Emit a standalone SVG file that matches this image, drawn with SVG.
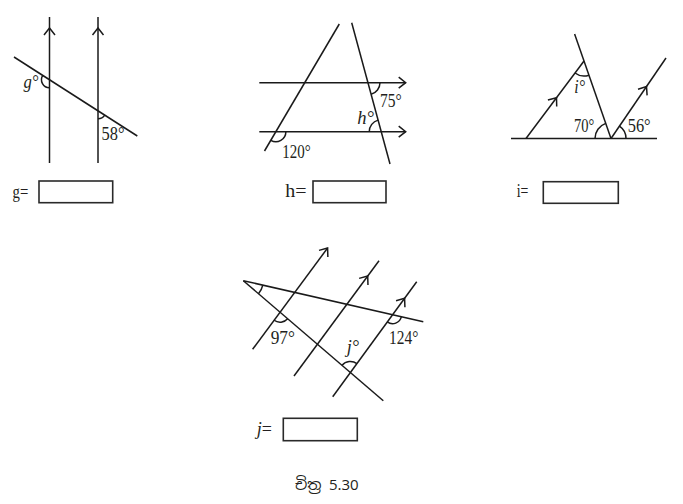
<svg xmlns="http://www.w3.org/2000/svg" xmlns:xlink="http://www.w3.org/1999/xlink" width="683" height="504" viewBox="0 0 683 504">
<style>
.ln{fill:none;stroke:#1a1a1a;stroke-width:1.5;stroke-linecap:butt}
.arc{fill:none;stroke:#1a1a1a;stroke-width:1.5}
.ch{fill:none;stroke:#1a1a1a;stroke-width:1.5;stroke-linejoin:miter}
.t{font-family:"Liberation Serif","Times New Roman",serif;font-size:18px;fill:#231f20}
.it{font-style:italic}
.box{fill:#fff;stroke:#2a2a2a;stroke-width:1.6}
.cap{font-family:"Noto Sans Sinhala","Noto Serif Sinhala","Iskoola Pota","Liberation Serif",serif;font-size:15px;fill:#231f20}
</style>
<defs>
<path id="chev" class="ch" d="M-7,-5.5 L0,0 L-7,5.5"/>
</defs>
<rect width="683" height="504" fill="#fff"/>

<g id="connectors">
<!-- panel g -->
<line class="ln" x1="49.5" y1="17" x2="49.5" y2="163"/>
<line class="ln" x1="98" y1="17" x2="98" y2="163"/>
<line class="ln" x1="14" y1="57" x2="137.3" y2="136"/>
<use xlink:href="#chev" href="#chev" transform="translate(49.5,28) rotate(-90)"/>
<use xlink:href="#chev" href="#chev" transform="translate(98,28) rotate(-90)"/>
<!-- panel h -->
<line class="ln" x1="339.3" y1="24" x2="264.5" y2="151"/>
<line class="ln" x1="351.7" y1="22.7" x2="390" y2="164"/>
<line class="ln" x1="259.3" y1="82.7" x2="405.7" y2="82.7"/>
<line class="ln" x1="259.3" y1="131.7" x2="405.7" y2="131.7"/>
<use xlink:href="#chev" href="#chev" transform="translate(405.7,82.7)"/>
<use xlink:href="#chev" href="#chev" transform="translate(405.7,131.7)"/>
<!-- panel i -->
<line class="ln" x1="511" y1="138.5" x2="657" y2="138.5"/>
<line class="ln" x1="526" y1="138.5" x2="584" y2="61"/>
<line class="ln" x1="574.6" y1="34" x2="611" y2="138.5"/>
<line class="ln" x1="611" y1="138.5" x2="666" y2="58"/>
<use xlink:href="#chev" href="#chev" transform="translate(556.5,97.7) rotate(-53.2)"/>
<use xlink:href="#chev" href="#chev" transform="translate(646.5,86.5) rotate(-55.7)"/>
<!-- panel j -->
<line class="ln" x1="243.3" y1="280.7" x2="423.3" y2="321.7"/>
<line class="ln" x1="243.3" y1="280.7" x2="383.3" y2="400.7"/>
<line class="ln" x1="252.6" y1="349.3" x2="327.6" y2="248"/>
<line class="ln" x1="294" y1="376" x2="379" y2="260.7"/>
<line class="ln" x1="332.7" y1="396.7" x2="416.7" y2="281.7"/>
<use xlink:href="#chev" href="#chev" transform="translate(327.6,248) rotate(-53.5)"/>
<use xlink:href="#chev" href="#chev" transform="translate(367.7,276) rotate(-53.6)"/>
<use xlink:href="#chev" href="#chev" transform="translate(404.6,298.3) rotate(-53.9)"/>
</g>

<g id="angle-g">
<path class="arc" d="M42.76,75.43 A8,8 0 0 0 49.5,87.75"/>
<text class="t it" x="23.5" y="87.5" textLength="15" lengthAdjust="spacingAndGlyphs">g°</text>
</g>
<g id="angle-58">
<path class="arc" d="M98,118.8 A8,8 0 0 0 104.74,115.12"/>
<text class="t" x="101.5" y="140" textLength="23" lengthAdjust="spacingAndGlyphs">58°</text>
</g>
<g id="box-g">
<text class="t" x="12.5" y="198" textLength="15.7" lengthAdjust="spacingAndGlyphs">g=</text>
<rect class="box" x="39" y="181" width="73.7" height="21.7"/>
</g>

<g id="angle-75">
<path class="arc" d="M379.96,82.7 A12,12 0 0 1 371.1,94.28"/>
<text class="t" x="380" y="106.5" textLength="21.7" lengthAdjust="spacingAndGlyphs">75°</text>
</g>
<g id="angle-h">
<path class="arc" d="M369.24,131.7 A12,12 0 0 1 378.1,120.12"/>
<text class="t it" x="357.3" y="123.5" textLength="16.7" lengthAdjust="spacingAndGlyphs">h°</text>
</g>
<g id="angle-120">
<path class="arc" d="M285.86,131.7 A10,10 0 0 1 270.79,140.32"/>
<text class="t" x="282.3" y="157.7" textLength="28.4" lengthAdjust="spacingAndGlyphs">120°</text>
</g>
<g id="box-h">
<text class="t" x="285.3" y="196.5" textLength="21.3" lengthAdjust="spacingAndGlyphs">h=</text>
<rect class="box" x="313" y="181" width="73" height="21.7"/>
</g>

<g id="angle-i">
<path class="arc" d="M575,73 A15,15 0 0 0 588.9,75.2"/>
<text class="t it" x="574.3" y="93.3" textLength="10.7" lengthAdjust="spacingAndGlyphs">i°</text>
</g>
<g id="angle-70">
<path class="arc" d="M595,138.5 A16,16 0 0 1 605.74,123.39"/>
<text class="t" x="574" y="131.7" textLength="20.3" lengthAdjust="spacingAndGlyphs">70°</text>
</g>
<g id="angle-56">
<path class="arc" d="M626,138.5 A15,15 0 0 0 619.46,126.12"/>
<text class="t" x="627.7" y="131.7" textLength="23" lengthAdjust="spacingAndGlyphs">56°</text>
</g>
<g id="box-i">
<text class="t" x="516.7" y="196.7" textLength="11.7" lengthAdjust="spacingAndGlyphs">i=</text>
<rect class="box" x="543.3" y="181.7" width="75" height="21.6"/>
</g>

<g id="angle-apex">
<path class="arc" d="M262.8,285.14 A20,20 0 0 1 258.49,293.72"/>
</g>
<g id="angle-97">
<path class="arc" d="M287.64,318.71 A10,10 0 0 1 274.1,320.24"/>
<text class="t" x="270.7" y="344.3" textLength="24.3" lengthAdjust="spacingAndGlyphs">97°</text>
</g>
<g id="angle-j">
<path class="arc" d="M342.05,365.34 A11,11 0 0 1 356.89,363.62"/>
<text class="t it" x="346.7" y="353" textLength="12.3" lengthAdjust="spacingAndGlyphs">j°</text>
</g>
<g id="angle-124">
<path class="arc" d="M401.38,316.7 A9,9 0 0 1 387.29,321.97"/>
<text class="t" x="389" y="344.3" textLength="29.3" lengthAdjust="spacingAndGlyphs">124°</text>
</g>
<g id="box-j">
<text class="t" x="256.7" y="435"><tspan class="it">j</tspan>=</text>
<rect class="box" x="283.3" y="418.3" width="74" height="22.4"/>
</g>

<g id="caption">
<text class="cap" x="295" y="490">චිත්‍ර 5.30</text>
</g>
</svg>
